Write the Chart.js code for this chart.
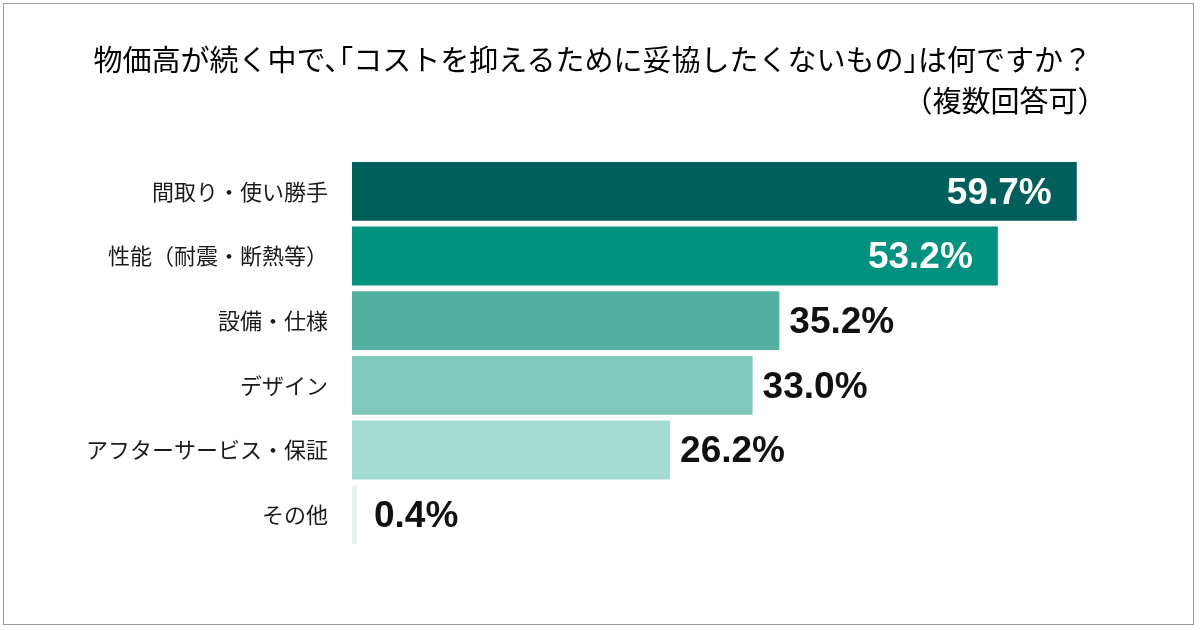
<!DOCTYPE html>
<html>
<head>
<meta charset="utf-8">
<script src="https://cdn.jsdelivr.net/npm/chart.js@4.4.1/dist/chart.umd.min.js"></script>
<style>
  body { margin: 0; background: #fff; }
  .frame {
    position: absolute; left: 3px; top: 3px; width: 1191px; height: 622px;
    border: 1.5px solid #9a9a9a; box-sizing: border-box;
  }
  .title {
    position: absolute; right: 108px; text-align: right; color: #000;
    font-family: "Noto Sans CJK JP", sans-serif; font-size: 29px; line-height: 1;
    font-feature-settings: "halt";
    white-space: nowrap;
  }
  #wrap { position: absolute; left: 0; top: 0; width: 1200px; height: 630px; }
</style>
</head>
<body>
<div id="wrap"><canvas id="chart"></canvas></div>
<div class="frame"></div>
<div class="title" style="top:44px">物価高が続く中で、「コストを抑えるために妥協したくないもの」は何ですか？</div>
<div class="title" style="top:85px">（複数回答可）</div>
<script>
// data
const categories = ['間取り・使い勝手', '性能（耐震・断熱等）', '設備・仕様', 'デザイン', 'アフターサービス・保証', 'その他'];
const values = [59.7, 53.2, 35.2, 33.0, 26.2, 0.4];
const barColors = ['#005f5a', '#00917f', '#53b09e', '#80cabd', '#a4dbd0', '#e5f3f0'];

// value labels: inside (white) for long bars, outside (black) for the rest
const valueLabels = {
  id: 'valueLabels',
  afterDatasetsDraw(chart) {
    const ctx = chart.ctx;
    const meta = chart.getDatasetMeta(0);
    ctx.save();
    ctx.font = 'bold 37px "Liberation Sans", Arial, sans-serif';
    ctx.textBaseline = 'middle';
    meta.data.forEach((bar, i) => {
      const txt = values[i].toFixed(1) + '%';
      if (values[i] > 40) {
        ctx.fillStyle = '#fff';
        ctx.textAlign = 'right';
        ctx.fillText(txt, bar.x - 25, bar.y + 2);
      } else {
        ctx.fillStyle = '#111';
        ctx.textAlign = 'left';
        ctx.fillText(txt, Math.max(bar.x + 10, bar.base + 22), bar.y + 2);
      }
    });
    ctx.restore();
  }
};

new Chart(document.getElementById('chart'), {
  type: 'bar',
  data: {
    labels: categories,
    datasets: [{
      data: values,
      backgroundColor: barColors,
      borderWidth: 0,
      barPercentage: 0.91,
      categoryPercentage: 1.0,
    }],
  },
  options: {
    indexAxis: 'y',
    responsive: true,
    maintainAspectRatio: false,
    animation: false,
    layout: { padding: { top: 159, bottom: 83, left: 0, right: 0 } },
    plugins: { legend: { display: false }, title: { display: false }, tooltip: { enabled: false } },
    scales: {
      x: {
        display: false,
        min: 0,
        max: 1200 / 12.14 - 352 / 12.14,
      },
      y: {
        afterFit: (axis) => { axis.width = 352; },
        grid: { display: false, drawTicks: false },
        border: { display: false },
        ticks: {
          color: '#1a1a1a',
          padding: 24,
          font: { family: '"Noto Sans CJK JP", sans-serif', size: 22 },
        },
      },
    },
  },
  plugins: [valueLabels],
});
</script>
</body>
</html>
